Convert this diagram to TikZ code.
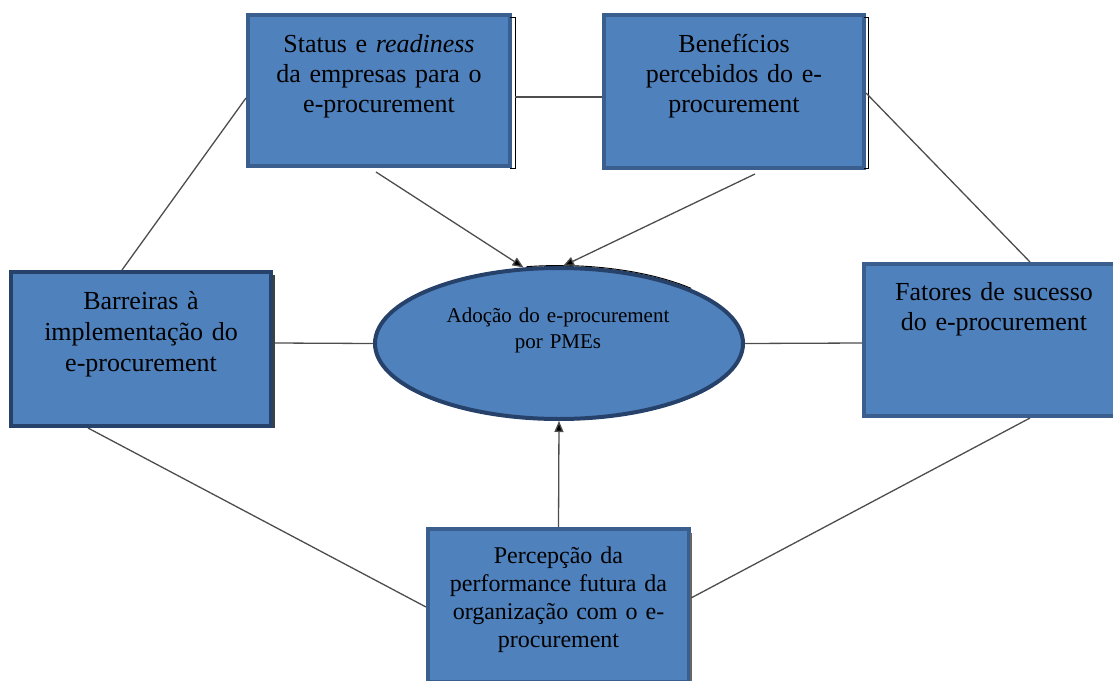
\documentclass[tikz,border=0pt]{standalone}
\usepackage{fontspec}
\setmainfont{Liberation Serif}
\usetikzlibrary{shapes.geometric,arrows.meta}
\definecolor{boxfill}{HTML}{4F81BD}
\definecolor{boxline}{HTML}{3A5F8F}
\definecolor{darkline}{HTML}{26416A}
\definecolor{linkgray}{HTML}{4D4D4D}
\tikzset{
  box/.style={rectangle, draw=boxline, line width=4pt, fill=boxfill, inner sep=0pt, anchor=north west},
  oval/.style={ellipse, draw=darkline, line width=4pt, fill=boxfill, inner sep=0pt},
  lbl/.style={font=\fontsize{26}{30}\selectfont, align=center, text width=262pt, anchor=base, inner sep=0pt},
  link/.style={draw=linkgray, line width=1.3pt},
  arr/.style={draw=linkgray, line width=1.3pt, -{Triangle[length=11pt,width=9pt,fill=black]}},
  rim/.style={draw=black, line width=0.9pt}
}
\begin{document}
\begin{tikzpicture}[x=1pt,y=-1pt]
\useasboundingbox (0,0) rectangle (1113,680);
\clip (0,0) rectangle (1113,680);

% boxes
\node[box, minimum width=262pt, minimum height=151pt] (tl) at (246,13) {};
\node[box, minimum width=260pt, minimum height=153pt] (tr) at (602,13) {};
\node[box, draw=darkline, minimum width=260pt, minimum height=154pt] (lb) at (9,270) {};
\node[box, minimum width=260pt, minimum height=152pt] (rb) at (862,262) {};
\node[box, minimum width=261pt, minimum height=153pt] (bt) at (426,527) {};
\node[oval, minimum width=368pt, minimum height=151pt] (el) at (559,343.5) {};

% thin outlines along some edges
\draw[rim] ([xshift=-2pt,yshift=-4pt]tl.north east) -- ++(5,0) |- ([xshift=-2pt]tl.south east);
\draw[rim] ([xshift=-2pt,yshift=-4pt]tr.north east) -- ++(4,0) |- ([xshift=-2pt,yshift=2pt]tr.south east);
\draw[draw=black!75, line width=1.6pt] ([xshift=1pt,yshift=-5pt]lb.north east) -- ([xshift=1pt]lb.south east);
\draw[draw=black!60, line width=1.2pt] ([xshift=0pt,yshift=-6pt]bt.north east) -- ++(0,160);
\draw[rim, shift={(el.center)}] (100:187pt and 78pt) arc[start angle=100, end angle=45, x radius=187pt, y radius=78pt];

% labels
\node[lbl] (tlt) at ([yshift=-39pt]tl.north) {Status e \textit{readiness}\\da empresas para o\\e-procurement};
\node[lbl] (trt) at ([yshift=-39pt]tr.north) {Benefícios\\percebidos do e-\\procurement};
\node[lbl, font=\fontsize{26}{31}\selectfont] (lbt) at ([yshift=-39pt]lb.north) {Barreiras à\\implementação do\\e-procurement};
\node[lbl] (rbt) at ([yshift=-38pt]rb.north) {Fatores de sucesso\\do e-procurement};
\node[lbl, font=\fontsize{24}{28}\selectfont] (btt) at ([yshift=-36pt]bt.north) {Percepção da\\performance futura da\\organização com o e-\\procurement};
\node[lbl, text width=320pt, font=\fontsize{21}{26}\selectfont] (elt) at ([xshift=-1pt,yshift=21.5pt]el.center) {Adoção do e-procurement\\por PMEs};

% undirected links
\draw[link] ([yshift=-85pt]tl.north west) -- ([xshift=113pt]lb.north west);
\draw[link] ([xshift=3pt,yshift=-84pt]tl.north east) -- ([yshift=-84pt]tr.north west);
\draw[link] ([yshift=-80pt]tr.north east) -- ([xshift=168pt]rb.north west);
\draw[link] ([xshift=2pt,yshift=-73pt]lb.north east) -- (el.west);
\draw[link] (el.east) -- ([yshift=-81pt]rb.north west);
\draw[link] ([xshift=79pt]lb.south west) -- ([yshift=-80pt]bt.north west);
\draw[link] ([xshift=168pt]rb.south west) -- ([yshift=-71pt]bt.north east);

% directed links
\draw[arr] ([xshift=130pt,yshift=-4pt]tl.south west) -- (el.115);
\draw[arr] ([xshift=153pt,yshift=-4pt]tr.south west) -- (el.87);
\draw[arr] (bt.north) -- (el.south);
\end{tikzpicture}
\end{document}
